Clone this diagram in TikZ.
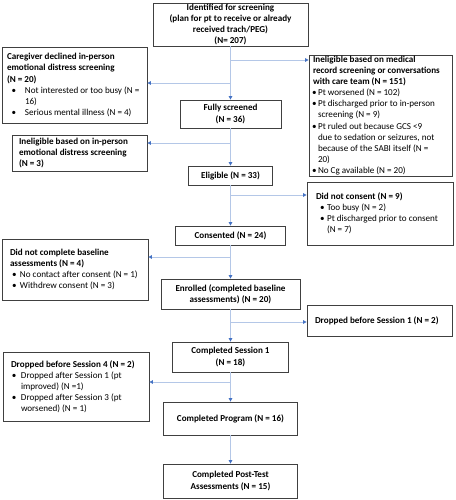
\documentclass[tikz,border=0pt]{standalone}
\usepackage{fontspec}
\setmainfont{Carlito}
\usepackage{tikz}
\usetikzlibrary{arrows.meta,positioning}
\definecolor{Edge}{HTML}{404040}
\definecolor{LBlue}{HTML}{B4C7E7}
\definecolor{TBlue}{HTML}{4472C4}
\newcommand{\fsz}{\fontsize{9.1}{11.1}\selectfont}
% side box text: #1 width, #2 content; lines may run a little past the width
\newcommand{\sidetext}[2]{\begin{minipage}{#1}\raggedright\rightskip=-14pt plus 1fil\relax#2\end{minipage}}
% bullet item: #1 bullet offset, #2 text offset, #3 text
\newcommand{\itm}[3]{\par\noindent\hangindent=#2\hangafter=1\makebox[#2][l]{\hspace*{#1}\textbullet}#3}

\begin{document}
\begin{tikzpicture}[x=1pt,y=-1pt,
    box/.style={draw=Edge,line width=0.8pt,fill=white,inner sep=0pt,font=\fsz},
    main/.style={box,align=center,font=\fsz\bfseries},
    side/.style={box},
    ln/.style={draw=LBlue,line width=0.9pt},
    arr/.style={ln,-{Triangle[length=3.5pt,width=3.5pt,color=TBlue]}}]
  \fill[white] (0,0) rectangle (455,500);
  % main column
  \node[main,minimum width=155pt,minimum height=43pt] (id) at (230.5,24.5)
    {Identified for screening\\(plan for pt to receive or already\\received trach/PEG)\\(N= 207)};
  \node[main,minimum width=101pt,minimum height=28pt] (full) at (230.5,114) {Fully screened\\(N = 36)};
  \node[main,minimum width=84pt,minimum height=19pt] (elig) at (230.5,175.5) {Eligible (N = 33)};
  \node[main,minimum width=110pt,minimum height=19pt] (cons) at (230.5,235.5) {Consented (N = 24)};
  \node[main,minimum width=139pt,minimum height=30pt] (enr) at (230.5,294)
    {Enrolled (completed baseline\\assessments) (N = 20)};
  \node[main,minimum width=116pt,minimum height=30pt] (s1) at (230.5,357) {Completed Session 1\\(N = 18)};
  \node[main,minimum width=134pt,minimum height=33pt] (prog) at (230.5,418.5) {Completed Program (N = 16)};
  \node[main,minimum width=134pt,minimum height=34pt] (post) at (230.5,481)
    {Completed Post-Test\\Assessments (N = 15)};
  % side boxes
  \node[side,minimum width=145pt,minimum height=76pt,inner xsep=5pt] (cg) at (74.5,85)
    {\sidetext{135pt}{{\bfseries Caregiver declined in-person\\emotional distress screening\\(N = 20)\par}
     \itm{4.5pt}{18pt}{Not interested or too busy (N =\newline 16)}
     \itm{4.5pt}{18pt}{Serious mental illness (N = 4)}}};
  \node[side,minimum width=143pt,minimum height=121pt,inner xsep=4pt] (med) at (380.5,115.5)
    {\sidetext{135pt}{{\bfseries Ineligible based on medical\\record screening or conversations\\with care team (N = 151)\par}
     \itm{-1pt}{5pt}{Pt worsened (N = 102)}
     \itm{-1pt}{5pt}{Pt discharged prior to in-person\newline screening (N = 9)}
     \itm{-1pt}{5pt}{Pt ruled out because GCS <9\newline due to sedation or seizures, not\newline because of the SABI itself (N =\newline 20)}
     \itm{-1pt}{5pt}{No Cg available (N = 20)}}};
  \node[side,minimum width=135pt,minimum height=36pt,inner xsep=7pt] (inel) at (79.5,153)
    {\sidetext{121pt}{\bfseries Ineligible based on in-person\\emotional distress screening\\(N = 3)}};
  \node[side,minimum width=146pt,minimum height=63pt,inner xsep=9pt] (dnc) at (380,213.5)
    {\sidetext{128pt}{{\bfseries Did not consent (N = 9)\par}
     \itm{4pt}{11pt}{Too busy (N = 2)}
     \itm{4pt}{11pt}{Pt discharged prior to consent\newline (N = 7)}}};
  \node[side,minimum width=146pt,minimum height=61pt,inner xsep=8pt] (base) at (75,269.5)
    {\sidetext{130pt}{{\bfseries Did not complete baseline\\assessments (N = 4)\par}
     \itm{2pt}{10pt}{No contact after consent (N = 1)}
     \itm{2pt}{10pt}{Withdrew consent (N = 3)}}};
  \node[side,minimum width=145pt,minimum height=31pt,inner xsep=8pt] (drop1) at (379.5,320.5)
    {\sidetext{129pt}{\bfseries Dropped before Session 1 (N = 2)}};
  \node[side,minimum width=146pt,minimum height=69pt,inner xsep=8pt] (drop4) at (76,386.5)
    {\sidetext{130pt}{{\bfseries Dropped before Session 4 (N = 2)\par}
     \itm{1pt}{10pt}{Dropped after Session 1 (pt\newline improved) (N =1)}
     \itm{1pt}{10pt}{Dropped after Session 3 (pt\newline worsened) (N = 1)}}};
  % branch points on the trunk
  \coordinate (b1) at (230.5,60);
  \coordinate (b2) at (230.5,83);
  \coordinate (b3) at (230.5,143);
  \coordinate (b4) at (230.5,195);
  \coordinate (b5) at (230.5,257);
  \coordinate (b6) at (230.5,322);
  \coordinate (b7) at (230.5,382);
  % trunk
  \draw[arr] (id) -- (full);
  \draw[arr] (full) -- (elig);
  \draw[arr] (elig) -- (cons);
  \draw[arr] (cons) -- (enr);
  \draw[arr] (enr) -- (s1);
  \draw[arr] (s1) -- (prog);
  \draw[arr] (prog) -- (post);
  % exclusions
  \draw[arr] (b1) -- (b1 -| med.west);
  \draw[arr] (b2) -- (b2 -| cg.east);
  \draw[arr] (b3) -- (b3 -| inel.east);
  \draw[arr] (b4) -- (b4 -| dnc.west);
  \draw[arr] (b5) -- (b5 -| base.east);
  \draw[arr] (b6) -- (b6 -| drop1.west);
  \draw[arr] (b7) -- (b7 -| drop4.east);
\end{tikzpicture}
\end{document}
